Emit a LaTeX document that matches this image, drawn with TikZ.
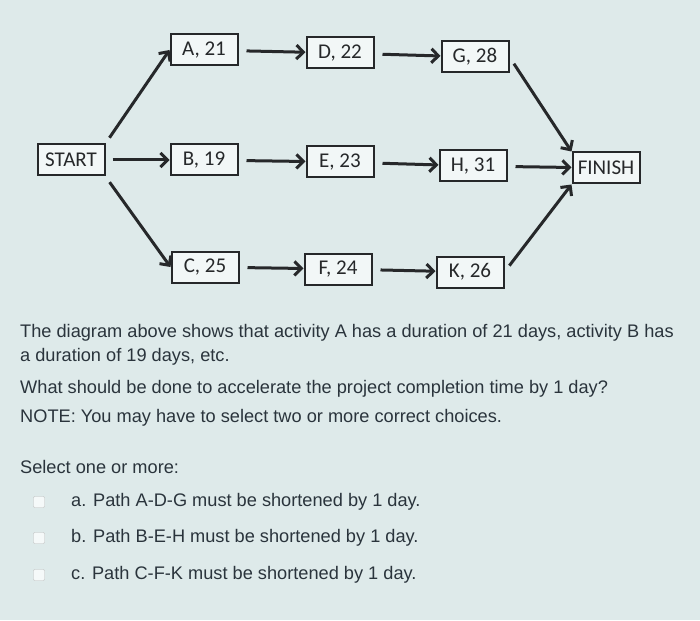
\documentclass[tikz,border=0pt]{standalone}
\usepackage{fontspec}
\setmainfont{Liberation Sans}
\newfontfamily\boxfont{Carlito}
\usetikzlibrary{arrows.meta}

\definecolor{screen}{RGB}{222,234,234}
\definecolor{ink}{RGB}{38,40,42}
\definecolor{txt}{RGB}{42,52,60}

\tikzset{
  act/.style={draw=ink, line width=2pt, fill=white!60!screen, minimum width=67pt,
    minimum height=31pt, inner sep=0pt, font=\boxfont\fontsize{21}{21}\selectfont, text=ink},
  flow/.style={-{Straight Barb[length=7pt,width=14pt]}, draw=ink, line width=3pt},
  line/.style={anchor=west, font=\fontsize{18.2}{20}\selectfont, text=txt, inner sep=0pt},
  tick/.style={draw=gray!50, fill=white!70!screen, minimum size=11pt, inner sep=0pt, rounded corners=1pt}
}

\begin{document}
\begin{tikzpicture}[x=1pt, y=-1pt]

    % background
    \fill[screen] (0,0) rectangle (700,620);
    \useasboundingbox (0,0) rectangle (700,620);

    %define the activities
    \node[act] (start)  at (71,160)  {START};
    \node[act] (a)      at (204,50)  {A, 21};
    \node[act] (d)      at (340,53)  {D, 22};
    \node[act] (g)      at (475,57)  {G, 28};
    \node[act] (b)      at (204,160) {B, 19};
    \node[act] (e)      at (340,162) {E, 23};
    \node[act] (h)      at (473,166) {H, 31};
    \node[act] (finish) at (606,168) {FINISH};
    \node[act] (c)      at (205,267) {C, 25};
    \node[act] (f)      at (338,269) {F, 24};
    \node[act] (k)      at (470,272) {K, 26};

    %define the links
    \draw[flow, shorten <=7pt] (start.north east) -- (a.west);
    \draw[flow, shorten <=7pt] (start.east) -- (b.west);
    \draw[flow, shorten <=7pt] (start.south east) -- (c.west);
    \draw[flow, shorten <=8pt] (a) -- (d);
    \draw[flow, shorten <=8pt] (d) -- (g);
    \draw[flow, shorten <=8pt] (b) -- (e);
    \draw[flow, shorten <=8pt] (e) -- (h);
    \draw[flow, shorten <=8pt] (c) -- (f);
    \draw[flow, shorten <=8pt] (f) -- (k);
    \draw[flow, shorten <=8pt] (g.east) -- (finish.north west);
    \draw[flow, shorten <=8pt] (h) -- (finish);
    \draw[flow, shorten <=8pt] (k.east) -- (finish.south west);

    %question text
    \node[line] (q1) at (20,333) {The diagram above shows that activity A has a duration of 21 days, activity B has};
    \node[line] (q2) at (20,357) {a duration of 19 days, etc.};
    \node[line] (q3) at (20,389) {What should be done to accelerate the project completion time by 1 day?};
    \node[line] (q4) at (20,418) {NOTE: You may have to select two or more correct choices.};
    \node[line] (sel) at (20,467) {Select one or more:};

    %choices
    \node[tick] (ba) at (39,502) {};
    \node[tick] (bb) at (39,538) {};
    \node[tick] (bc) at (39,575) {};
    \node[line] (ca) at (71,502) {a. Path A-D-G must be shortened by 1 day.};
    \node[line] (cb) at (71,538) {b. Path B-E-H must be shortened by 1 day.};
    \node[line] (cc) at (71,575) {c. Path C-F-K must be shortened by 1 day.};
  \end{tikzpicture}
\end{document}
